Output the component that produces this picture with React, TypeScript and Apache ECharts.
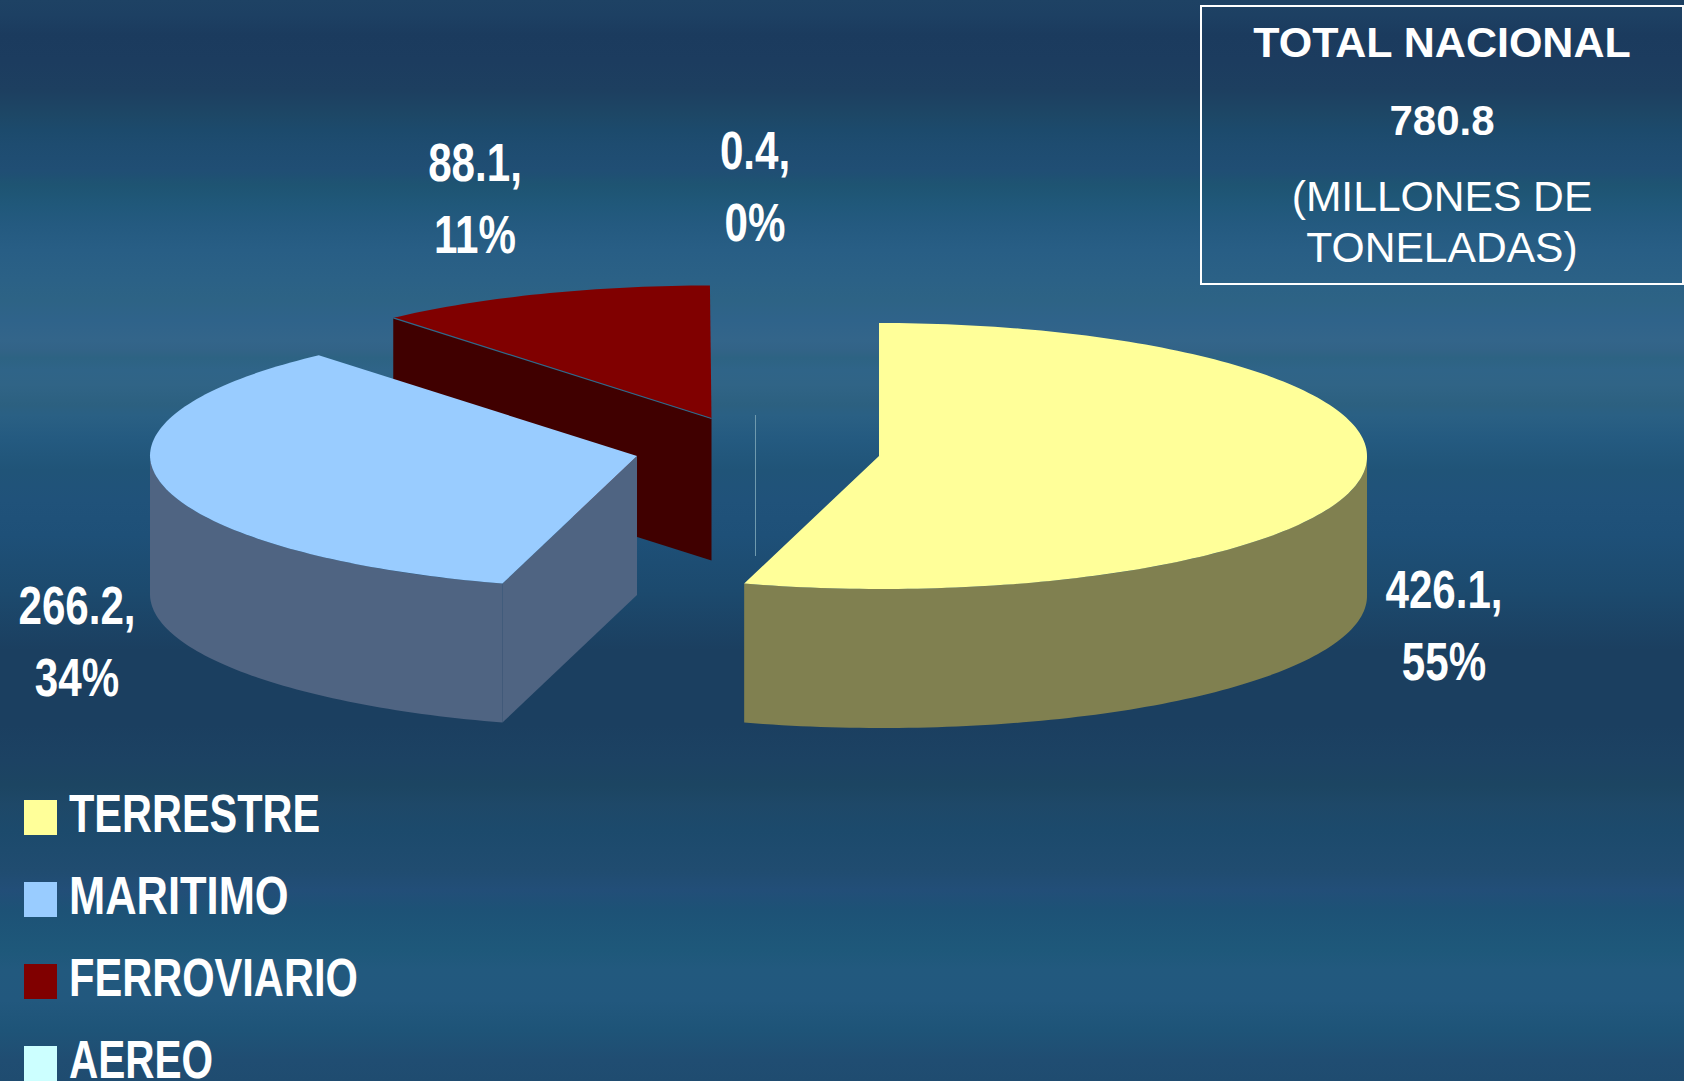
import React, { useEffect, useRef } from "react";
import * as echarts from "echarts";

const CATEGORIES = ["TERRESTRE", "MARITIMO", "FERROVIARIO", "AEREO"];
const VALUES = [426.1, 266.2, 88.1, 0.4];
const VALUE_LABELS = ["426.1", "266.2", "88.1", "0.4"];
const PERCENT_LABELS = ["55%", "34%", "11%", "0%"];
const TOP_COLORS = ["#FFFF99", "#99CCFF", "#800000", "#CCFFFF"];
const SIDE_COLORS = ["#808050", "#4F6482", "#400000", "#6F9AAE"];
const TOTAL_LINES = ["TOTAL NACIONAL", "780.8", "(MILLONES DE", "TONELADAS)"];

// Layout of the exploded pseudo-3D pie
const W = 1684;
const H = 1081;
const RX = [488, 487, 487, 487];
const RY = 133;
const FRONT_SHIFT = 3.6;
const DEPTHS = [139, 139, 142, 141];
const APEX = [[879, 456], [637, 456], [711.5, 418.5], [755.5, 415]];
const LABEL_AT = [[1444, 625], [77, 641], [475, 198], [755, 186]];
const Z_ORDER = [3, 2, 1, 1];
const LEGEND_SCALE = [0.783, 0.82, 0.785, 0.765];
const SANS = "'Liberation Sans', Arial, sans-serif";

const BG_STOPS: [number, string][] = [
  [0, "#1e4264"], [15, "#1d4063"], [35, "#1b3b5e"], [60, "#1c3c5f"], [90, "#1d3f60"],
  [115, "#1d4766"], [130, "#1c4a6c"], [145, "#1e4c70"], [170, "#204e74"], [185, "#1e5472"],
  [205, "#20587a"], [225, "#245a80"], [250, "#285e85"], [280, "#2b6186"], [300, "#2d6385"],
  [320, "#2f638a"], [340, "#33658a"], [350, "#326387"], [358, "#2d6383"], [370, "#2f6488"],
  [385, "#306486"], [405, "#2c6080"], [415, "#2a6084"], [440, "#245a80"], [470, "#205478"],
  [500, "#20527a"], [535, "#1e5078"], [590, "#1c4a6e"], [650, "#1b3f60"], [725, "#1b3f60"],
  [760, "#1c4263"], [785, "#1c4562"], [805, "#1e4868"], [830, "#1c4a6c"], [870, "#204c70"],
  [890, "#224e78"], [910, "#1d5276"], [950, "#1e587a"], [970, "#22597e"], [1000, "#22587e"],
  [1030, "#1e5478"], [1060, "#204d72"], [1081, "#1f4c70"],
];

const total = VALUES.reduce((a, b) => a + b, 0);
const TAU = Math.PI * 2;

function pt(index: number, t: number, dy = 0) {
  const c = APEX[index];
  const front = Math.max(0, -Math.cos(t)) * FRONT_SHIFT;
  return [c[0] + RX[index] * Math.sin(t) + front, c[1] - RY * Math.cos(t) + dy];
}

function arcPts(index: number, a0: number, a1: number, dy = 0) {
  const n = Math.max(2, Math.ceil(Math.abs(a1 - a0) / 0.02));
  const out: number[][] = [];
  for (let i = 0; i <= n; i++) out.push(pt(index, a0 + ((a1 - a0) * i) / n, dy));
  return out;
}

function renderSlice(index: number) {
  return (_params: any, api: any) => {
    const value = api.value(0);
    const before = VALUES.slice(0, index).reduce((a, b) => a + b, 0);
    const a0 = (before / total) * TAU;
    const a1 = a0 + (value / total) * TAU;
    const c = APEX[index];
    const depth = DEPTHS[index];
    const side = SIDE_COLORS[index];
    const top = TOP_COLORS[index];
    const children: any[] = [];
    const tiny = a1 - a0 < 0.02;

    if (tiny) {
      children.push({
        type: "line",
        shape: { x1: c[0], y1: c[1], x2: c[0], y2: c[1] + depth },
        style: { stroke: side, lineWidth: 1 },
      });
    } else {
      const f0 = Math.max(a0, Math.PI / 2);
      const f1 = Math.min(a1, (Math.PI * 3) / 2);
      if (f1 > f0) {
        const upper = arcPts(index, f0, f1);
        const lower = arcPts(index, f0, f1, depth).reverse();
        children.push({ type: "polygon", shape: { points: upper.concat(lower) }, style: { fill: side } });
      }
      if (Math.sin(a0) < 0) {
        const e = pt(index, a0);
        children.push({
          type: "polygon",
          shape: { points: [c, e, [e[0], e[1] + depth], [c[0], c[1] + depth]] },
          style: { fill: side },
        });
      }
      const pts = [c].concat(arcPts(index, a0, a1));
      children.push({ type: "polygon", shape: { points: pts }, style: { fill: top } });
      if (index === 2) {
        const e = pt(index, a0);
        children.push({
          type: "line",
          shape: { x1: e[0], y1: e[1], x2: c[0], y2: c[1] },
          style: { stroke: "#2f6a8c", lineWidth: 1.2 },
        });
      }
    }

    children.push({
      type: "text",
      x: LABEL_AT[index][0],
      y: LABEL_AT[index][1],
      scaleX: 0.78,
      style: {
        text: `${VALUE_LABELS[index]},\n${PERCENT_LABELS[index]}`,
        x: 0,
        y: 0,
        fill: "#ffffff",
        font: `bold 54px ${SANS}`,
        lineHeight: 72,
        align: "center",
        verticalAlign: "middle",
      },
    });
    return { type: "group", children };
  };
}

export default function App() {
  const ref = useRef<HTMLDivElement>(null);
  useEffect(() => {
    document.body.style.margin = "0";
    const chart = echarts.init(ref.current!, undefined, { renderer: "svg" });
    const totalStyles = [
      { y: 42, font: `bold 43px ${SANS}` },
      { y: 120, font: `bold 42px ${SANS}` },
      { y: 196, font: `42.6px ${SANS}` },
      { y: 247, font: `42.6px ${SANS}` },
    ];
    chart.setOption({
      animation: false,
      graphic: [
        {
          type: "rect",
          z: -10,
          silent: true,
          shape: { x: 0, y: 0, width: W, height: H },
          style: {
            fill: new echarts.graphic.LinearGradient(
              0, 0, 0, 1,
              BG_STOPS.map(([y, color]) => ({ offset: y / H, color }))
            ),
          },
        },
        {
          type: "rect",
          z: 5,
          silent: true,
          shape: { x: 1201, y: 6, width: 482, height: 278 },
          style: { fill: "transparent", stroke: "#ffffff", lineWidth: 2 },
        },
        ...TOTAL_LINES.map((text, i) => ({
          type: "text",
          z: 6,
          silent: true,
          style: {
            text,
            x: 1442,
            y: totalStyles[i].y,
            fill: "#ffffff",
            font: totalStyles[i].font,
            align: "center",
            verticalAlign: "middle",
          },
        })),
        ...CATEGORIES.flatMap((name, i) => [
          {
            type: "rect",
            z: 5,
            silent: true,
            shape: { x: 24, y: 800 + i * 82, width: 33, height: 35 },
            style: { fill: TOP_COLORS[i] },
          },
          {
            type: "text",
            z: 6,
            silent: true,
            x: 69,
            y: 814 + i * 81.7,
            scaleX: LEGEND_SCALE[i],
            style: {
              text: name,
              x: 0,
              y: 0,
              fill: "#ffffff",
              font: `bold 53px ${SANS}`,
              align: "left",
              verticalAlign: "middle",
            },
          },
        ]),
      ],
      series: CATEGORIES.map((name, i) => ({
        type: "custom",
        name,
        coordinateSystem: "none",
        z: Z_ORDER[i],
        silent: true,
        itemStyle: { color: TOP_COLORS[i] },
        data: [[VALUES[i]]],
        renderItem: renderSlice(i),
      })),
    });
    return () => chart.dispose();
  }, []);
  return <div ref={ref} style={{ width: W, height: H }} />;
}
